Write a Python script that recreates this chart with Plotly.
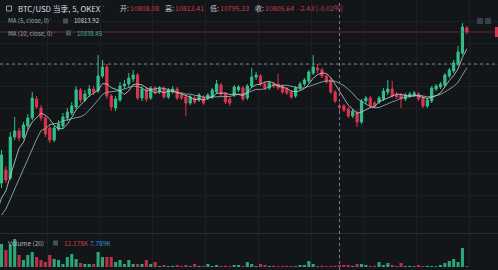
import plotly.graph_objects as go
import pandas as pd

W, H = 498, 270

# ---------------- data (5-minute candles, USD) ----------------
# the first 9 bars are warm-up bars that sit left of the visible window (needed by the MAs)
warm_open = [10532, 10540, 10548, 10556, 10564, 10572, 10590, 10596, 10610]
warm_close = [10540, 10548, 10556, 10564, 10572, 10590, 10596, 10610, 10614]
warm_high = [10544, 10554, 10560, 10568, 10576, 10594, 10600, 10614, 10620]
warm_low = [10528, 10536, 10544, 10552, 10560, 10568, 10584, 10592, 10604]
warm_vol = [90, 80, 100, 85, 95, 110, 120, 105, 115]

opens = [
    10654, 10680, 10664, 10746, 10758, 10746, 10768, 10784, 10822, 10804,
    10784, 10764, 10740, 10762, 10768, 10784, 10794, 10806, 10840, 10820,
    10832, 10842, 10838, 10868, 10886, 10828, 10804, 10820, 10848, 10852,
    10862, 10870, 10824, 10842, 10824, 10844, 10836, 10844, 10826, 10836,
    10842, 10830, 10826, 10814, 10824, 10820, 10826, 10824, 10826, 10836,
    10850, 10832, 10822, 10830, 10840, 10844, 10824, 10848, 10866, 10868,
    10852, 10844, 10852, 10852, 10848, 10842, 10836, 10828, 10844, 10852,
    10858, 10874, 10884, 10880, 10868, 10860, 10836, 10808.08, 10808, 10802,
    10788, 10794, 10776, 10818, 10824, 10814, 10816, 10822, 10836, 10842,
    10832, 10830, 10822, 10828, 10830, 10832, 10824, 10808, 10818, 10842,
    10846, 10850, 10868, 10878, 10892, 10914, 10964]
closes = [
    10710, 10660, 10746, 10758, 10744, 10770, 10784, 10824, 10806, 10784,
    10752, 10740, 10764, 10772, 10786, 10796, 10808, 10840, 10820, 10832,
    10842, 10836, 10868, 10886, 10828, 10806, 10822, 10848, 10852, 10864,
    10870, 10824, 10842, 10822, 10844, 10836, 10844, 10826, 10840, 10842,
    10824, 10824, 10814, 10826, 10816, 10830, 10814, 10830, 10840, 10852,
    10832, 10816, 10814, 10846, 10846, 10822, 10848, 10866, 10870, 10852,
    10844, 10854, 10848, 10844, 10836, 10834, 10826, 10844, 10852, 10860,
    10876, 10886, 10880, 10868, 10856, 10836, 10818, 10805.64, 10800, 10788,
    10798, 10776, 10818, 10824, 10808, 10808, 10824, 10838, 10842, 10828,
    10826, 10822, 10830, 10832, 10834, 10822, 10808, 10820, 10844, 10848,
    10852, 10870, 10880, 10894, 10916, 10966, 10956]
highs = [
    10720, 10688, 10756, 10786, 10764, 10776, 10792, 10836, 10828, 10810,
    10788, 10772, 10768, 10780, 10794, 10804, 10816, 10848, 10844, 10840,
    10850, 10848, 10910, 10900, 10892, 10832, 10828, 10856, 10860, 10874,
    10880, 10874, 10848, 10846, 10848, 10848, 10848, 10848, 10844, 10848,
    10846, 10834, 10830, 10830, 10828, 10834, 10830, 10834, 10844, 10860,
    10854, 10836, 10826, 10850, 10850, 10848, 10852, 10884, 10876, 10872,
    10856, 10858, 10856, 10872, 10852, 10846, 10840, 10848, 10856, 10864,
    10880, 10910, 10892, 10884, 10872, 10864, 10840, 10813.41, 10812, 10806,
    10802, 10800, 10822, 10828, 10828, 10818, 10828, 10844, 10860, 10858,
    10836, 10834, 10834, 10836, 10838, 10836, 10828, 10824, 10848, 10852,
    10856, 10874, 10884, 10900, 10928, 10974, 10968]
lows = [
    10644, 10654, 10660, 10740, 10738, 10742, 10762, 10780, 10802, 10778,
    10746, 10734, 10736, 10758, 10762, 10778, 10790, 10802, 10814, 10816,
    10826, 10830, 10834, 10864, 10822, 10798, 10798, 10816, 10842, 10846,
    10856, 10820, 10818, 10816, 10820, 10832, 10832, 10822, 10822, 10832,
    10820, 10820, 10788, 10810, 10812, 10816, 10810, 10820, 10822, 10832,
    10828, 10812, 10808, 10826, 10836, 10818, 10820, 10844, 10860, 10848,
    10840, 10840, 10844, 10840, 10832, 10830, 10822, 10824, 10840, 10848,
    10854, 10870, 10874, 10864, 10852, 10832, 10814, 10795.33, 10796, 10784,
    10784, 10766, 10772, 10812, 10804, 10804, 10812, 10818, 10830, 10824,
    10822, 10804, 10818, 10824, 10826, 10818, 10804, 10804, 10814, 10838,
    10842, 10846, 10864, 10874, 10888, 10910, 10952]
volumes_k = [
    138, 102, 132, 168, 72, 42, 72, 90, 60, 42,
    30, 72, 48, 42, 18, 60, 78, 48, 24, 18,
    18, 18, 90, 60, 60, 60, 30, 42, 18, 42,
    18, 18, 18, 42, 18, 30, 6, 12, 6, 7,
    12, 6, 12, 5, 18, 6, 7, 18, 6, 12,
    6, 7, 5, 12, 12, 6, 30, 18, 6, 18,
    12, 6, 7, 5, 6, 7, 6, 5, 12, 12,
    36, 18, 6, 7, 5, 6, 7, 12.178, 12, 12,
    6, 18, 18, 12, 6, 7, 30, 12, 24, 12,
    6, 24, 6, 7, 5, 12, 6, 7, 6, 5,
    12, 24, 36, 48, 30, 114, 6]

header_symbol = "BTC/USD 当季, 5, OKEX"
ohlc_labels = ["开:", "高:", "低:", "收:"]
ohlc_values = ["10808.08", "10813.41", "10795.33", "10805.64"]
change_text = "-2.43 (-0.02%)"
ma5_label, ma5_value = "MA (5, close, 0)", "10813.92"
ma10_label, ma10_value = "MA (10, close, 0)", "10838.45"
vol_label, vol_value, vol_ma_value = "Volume (20)", "12.178K", "7.789K"
crosshair_bar = 77
crosshair_price = 10892

# ---------------- frame ----------------
n_warm = len(warm_open)
o = warm_open + opens
c = warm_close + closes
h = warm_high + highs
l = warm_low + lows
v = warm_vol + volumes_k
x = list(range(-n_warm, len(opens)))
df = pd.DataFrame({"x": x, "o": o, "h": h, "l": l, "c": c, "v": v})
df["ma5"] = df["c"].rolling(5).mean()
df["ma10"] = df["c"].rolling(10).mean()
df["up"] = df["c"] >= df["o"]

BG = "#131619"
GREEN = "#31c08a"
RED = "#dc3450"
GRID = "#1c2026"

fig = go.Figure()
fig.add_trace(go.Candlestick(
    x=df["x"], open=df["o"], high=df["h"], low=df["l"], close=df["c"],
    increasing=dict(line=dict(color=GREEN, width=1), fillcolor=GREEN),
    decreasing=dict(line=dict(color=RED, width=1), fillcolor=RED),
    whiskerwidth=0, showlegend=False, hoverinfo="skip"))
fig.add_trace(go.Scatter(x=df["x"], y=df["ma10"], mode="lines",
                         line=dict(color="rgba(140,196,176,0.8)", width=1),
                         showlegend=False, hoverinfo="skip"))
fig.add_trace(go.Scatter(x=df["x"], y=df["ma5"], mode="lines",
                         line=dict(color="rgba(205,209,216,0.8)", width=1),
                         showlegend=False, hoverinfo="skip"))
fig.add_trace(go.Bar(x=df["x"], y=df["v"], xaxis="x2", yaxis="y2",
                     marker=dict(color=[("rgba(49,192,138,0.85)" if u else "rgba(220,52,80,0.85)") for u in df["up"]],
                                 line=dict(width=0)),
                     showlegend=False, hoverinfo="skip"))

# pixel geometry
px_per_bar = 4.39
first_px = 1.5
r0 = -first_px / px_per_bar
r1 = r0 + W / px_per_bar
main_top_px, main_bot_px = 0, 232
usd_per_px = 2.0
y_top = 11020
y_bot = y_top - usd_per_px * (main_bot_px - main_top_px)

xcommon = dict(range=[r0, r1], showticklabels=False, showgrid=True, gridcolor=GRID,
               gridwidth=1, tick0=10.5, dtick=12, zeroline=False, showline=False, ticks="",
               fixedrange=True)
fig.update_layout(
    width=W, height=H, margin=dict(l=0, r=0, t=0, b=0),
    paper_bgcolor=BG, plot_bgcolor=BG,
    bargap=0.3,
    xaxis=dict(**xcommon, anchor="y", domain=[0, 1], rangeslider=dict(visible=False)),
    xaxis2=dict(**xcommon, anchor="y2", domain=[0, 1], matches="x"),
    yaxis=dict(domain=[1 - main_bot_px / H, 1], range=[y_bot, y_top], showticklabels=False,
               showgrid=True, gridcolor=GRID, tick0=10760, dtick=43.4, zeroline=False, ticks=""),
    yaxis2=dict(domain=[3 / H, 37 / H], range=[0, 204], showticklabels=False,
                showgrid=False, zeroline=False, ticks=""),
    showlegend=False,
)


def py(p):
    return 1 - p / H


def pxx(p):
    return p / W


shapes = []
# pane separator
shapes.append(dict(type="line", xref="paper", yref="paper", x0=0, x1=1, y0=py(233.5), y1=py(233.5),
                   line=dict(color="#2a2e36", width=1)))
# last price line
shapes.append(dict(type="line", xref="paper", yref="y", x0=0, x1=1, y0=closes[-1], y1=closes[-1],
                   line=dict(color="rgba(180,48,66,0.55)", width=1)))
# crosshair
shapes.append(dict(type="line", xref="x", yref="paper", x0=crosshair_bar, x1=crosshair_bar, y0=0, y1=1,
                   line=dict(color="#7d8089", width=1, dash="3px,3px")))
shapes.append(dict(type="line", xref="paper", yref="y", x0=0, x1=1, y0=crosshair_price, y1=crosshair_price,
                   line=dict(color="#7d8089", width=1, dash="3px,3px")))
# price label stub at right edge
shapes.append(dict(type="rect", xref="paper", yref="paper", x0=pxx(495), x1=1, y0=py(37), y1=py(27),
                   fillcolor=RED, line=dict(width=0)))
# top-right small buttons
for bx in (477, 485):
    shapes.append(dict(type="rect", xref="paper", yref="paper", x0=pxx(bx), x1=pxx(bx + 6),
                       y0=py(24), y1=py(18), fillcolor="#3a3e46", line=dict(width=0)))
# legend icons: collapse box, x boxes
shapes.append(dict(type="rect", xref="paper", yref="paper", x0=pxx(6.5), x1=pxx(11.5), y0=py(11), y1=py(6),
                   line=dict(color="#9598a1", width=1), fillcolor="rgba(0,0,0,0)"))
for bx, cy in ((63, 21), (66, 33), (53, 243)):
    shapes.append(dict(type="rect", xref="paper", yref="paper", x0=pxx(bx), x1=pxx(bx + 5),
                       y0=py(cy + 2.5), y1=py(cy - 2.5), fillcolor="#4a4e56", line=dict(width=0)))
fig.update_layout(shapes=shapes)

FONT = "Noto Sans CJK SC, Noto Sans, sans-serif"


def txt(xp, yp, s, color, size):
    fig.add_annotation(x=pxx(xp), y=py(yp), xref="paper", yref="paper", text=s, showarrow=False,
                       xanchor="left", yanchor="middle", font=dict(family=FONT, size=size, color=color))


LABEL = "#c3c6ce"
VAL_RED = "#c9394f"
txt(16, 8.5, header_symbol, "#d8dbe2", 7.8)
txt(100, 8, "˅", "#9598a1", 7)
ox = [118, 163, 208, 253]
for i in range(4):
    txt(ox[i], 8.5, ohlc_labels[i], LABEL, 7)
    txt(ox[i] + 10, 8.5, ohlc_values[i], VAL_RED, 7)
txt(296, 8.5, change_text, VAL_RED, 7)

txt(6, 21, ma5_label, "#a3a6af", 6)
txt(48, 21, "˅", "#9598a1", 5)
txt(72, 21, ma5_value, "#d1d4dc", 6)
txt(6, 33, ma10_label, "#a3a6af", 6)
txt(52, 33, "˅", "#9598a1", 5)
txt(75, 33, ma10_value, "#3fb58a", 6)

txt(6, 243, vol_label, "#b2b5be", 6.5)
txt(43, 243, "˅", "#9598a1", 5)
txt(62, 243, vol_value, VAL_RED, 6.5)
txt(88, 243, vol_ma_value, "#2f8fd8", 6.5)

fig.write_html("out.html")
